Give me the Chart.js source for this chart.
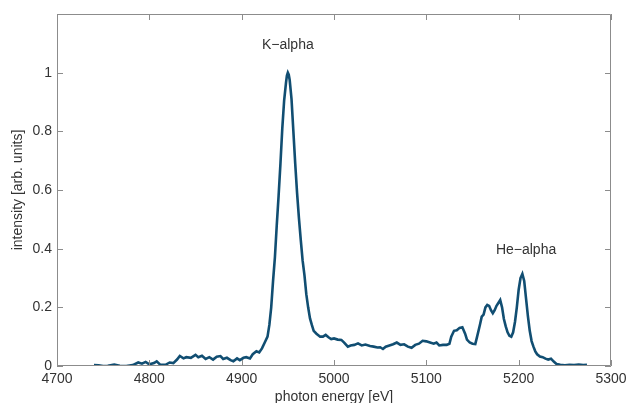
<!DOCTYPE html>
<html>
<head>
<meta charset="utf-8">
<script src="https://cdn.jsdelivr.net/npm/chart.js@4/dist/chart.umd.min.js"></script>
<style>
  html, body { margin: 0; padding: 0; background: #fff; }
  #wrap { width: 626px; height: 403px; }
</style>
</head>
<body>
<div id="wrap"><canvas id="spectrum"></canvas></div>
<script>
// photon energy [eV] and normalised intensity
const energy = [
  4740, 4745, 4750, 4755, 4762, 4768, 4775, 4782, 4788, 4792, 4796, 4800, 4805, 4808, 4812, 4818,
  4822, 4826, 4830, 4833, 4837, 4840, 4845, 4850, 4853, 4857, 4861, 4865, 4869, 4873, 4877, 4880,
  4884, 4888, 4891, 4895, 4898, 4902, 4905, 4909, 4912, 4916, 4919, 4922, 4925, 4928, 4930, 4932,
  4934, 4936, 4938, 4940, 4942, 4944, 4946, 4948, 4949, 4950, 4951, 4952, 4954, 4956, 4958, 4960,
  4962, 4964, 4966, 4968, 4970, 4972, 4974, 4976, 4978, 4981, 4985, 4988, 4991, 4994, 4997, 5000,
  5004, 5008, 5011, 5015, 5018, 5022, 5026, 5030, 5034, 5039, 5043, 5047, 5050, 5053, 5056, 5060,
  5064, 5068, 5072, 5076, 5080, 5084, 5088, 5092, 5096, 5100, 5104, 5108, 5111, 5114, 5118, 5122,
  5125, 5127, 5130, 5133, 5136, 5139, 5142, 5144, 5147, 5150, 5153, 5155, 5158, 5160, 5162, 5164,
  5166, 5168, 5170, 5172, 5174, 5176, 5178, 5180, 5182, 5184, 5186, 5188, 5190, 5192, 5194, 5196,
  5198, 5200, 5202, 5204, 5206, 5208, 5210, 5212, 5214, 5216, 5218, 5220, 5223, 5226, 5229, 5232,
  5235, 5238, 5241, 5245, 5250, 5255, 5260, 5265, 5270, 5274
];
const intensity = [
  0.003, 0.002, 0.000, 0.001, 0.005, 0.001, 0.000, 0.003, 0.012, 0.008, 0.014, 0.006, 0.010, 0.016, 0.004, 0.005,
  0.012, 0.010, 0.022, 0.034, 0.026, 0.030, 0.028, 0.038, 0.030, 0.035, 0.024, 0.030, 0.022, 0.032, 0.034, 0.024,
  0.028, 0.020, 0.016, 0.026, 0.020, 0.028, 0.030, 0.026, 0.040, 0.050, 0.046, 0.060, 0.080, 0.100, 0.140, 0.200,
  0.290, 0.370, 0.480, 0.580, 0.690, 0.810, 0.905, 0.965, 0.990, 1.000, 0.993, 0.975, 0.910, 0.800, 0.690, 0.590,
  0.505, 0.430, 0.360, 0.310, 0.245, 0.200, 0.162, 0.140, 0.120, 0.110, 0.100, 0.100, 0.106, 0.098, 0.092, 0.094,
  0.090, 0.089, 0.080, 0.066, 0.070, 0.072, 0.077, 0.070, 0.073, 0.068, 0.066, 0.063, 0.064, 0.058, 0.066, 0.070,
  0.074, 0.080, 0.072, 0.074, 0.066, 0.062, 0.072, 0.076, 0.086, 0.084, 0.080, 0.076, 0.080, 0.070, 0.072, 0.072,
  0.076, 0.100, 0.120, 0.122, 0.130, 0.132, 0.110, 0.090, 0.080, 0.076, 0.075, 0.100, 0.140, 0.168, 0.175, 0.200,
  0.208, 0.205, 0.190, 0.180, 0.190, 0.205, 0.215, 0.225, 0.200, 0.160, 0.135, 0.115, 0.103, 0.100, 0.115, 0.150,
  0.200, 0.260, 0.300, 0.314, 0.290, 0.230, 0.170, 0.120, 0.085, 0.066, 0.050, 0.040, 0.032, 0.030, 0.025, 0.022,
  0.025, 0.015, 0.007, 0.004, 0.002, 0.004, 0.003, 0.005, 0.003, 0.004
];
const xTicks = [4700, 4800, 4900, 5000, 5100, 5200, 5300];
const yTicks = [0, 0.2, 0.4, 0.6, 0.8, 1];
const peakLabels = ['K\u2212alpha', 'He\u2212alpha'];
const peakLabelPos = [[4950, 1.094], [5208, 0.395]];

const FONT = '"Liberation Sans", Arial, sans-serif';
const AXIS_GREY = '#8c8c8c';
const TEXT = '#333333';

// box around the plot with inward ticks on all four sides, plus the peak labels
const boxPlugin = {
  id: 'box',
  afterDraw(chart) {
    const { ctx, chartArea: a, scales: { x, y } } = chart;
    const len = 6;
    ctx.save();
    ctx.strokeStyle = AXIS_GREY;
    ctx.lineWidth = 1;
    ctx.beginPath();
    ctx.rect(a.left + 0.5, a.top + 0.5, a.right - a.left - 1, a.bottom - a.top - 1);
    xTicks.forEach(v => {
      const px = Math.round(x.getPixelForValue(v)) + 0.5;
      ctx.moveTo(px, a.bottom); ctx.lineTo(px, a.bottom - len);
      ctx.moveTo(px, a.top); ctx.lineTo(px, a.top + len);
    });
    yTicks.forEach(v => {
      const py = Math.round(y.getPixelForValue(v)) + 0.5;
      ctx.moveTo(a.left, py); ctx.lineTo(a.left + len, py);
      ctx.moveTo(a.right, py); ctx.lineTo(a.right - len, py);
    });
    ctx.stroke();

    ctx.fillStyle = TEXT;
    ctx.font = '14px ' + FONT;
    ctx.textAlign = 'center';
    ctx.textBaseline = 'middle';
    peakLabels.forEach((t, i) => {
      const [ev, val] = peakLabelPos[i];
      ctx.fillText(t, x.getPixelForValue(ev), y.getPixelForValue(val));
    });
    ctx.restore();
  }
};

new Chart(document.getElementById('spectrum'), {
  type: 'line',
  data: {
    datasets: [{
      data: energy.map((e, i) => ({ x: e, y: intensity[i] })),
      borderColor: '#114e72',
      borderWidth: 2.6,
      pointRadius: 0,
      tension: 0,
      fill: false
    }]
  },
  options: {
    responsive: true,
    maintainAspectRatio: false,
    devicePixelRatio: 1,
    animation: false,
    layout: { padding: { top: 14, right: 15, left: 0, bottom: 0 } },
    plugins: { legend: { display: false }, tooltip: { enabled: false } },
    scales: {
      x: {
        type: 'linear',
        min: 4700,
        max: 5300,
        afterFit(s) { s.height = 37; s.paddingRight = 0; s.paddingLeft = 0; },
        afterBuildTicks(s) { s.ticks = xTicks.map(v => ({ value: v })); },
        grid: { display: false, drawTicks: false },
        border: { display: false },
        ticks: {
          color: TEXT,
          font: { size: 14, family: FONT },
          padding: 5,
          maxRotation: 0,
          callback: v => String(v)
        },
        title: {
          display: true,
          text: 'photon energy [eV]',
          color: TEXT,
          font: { size: 14, family: FONT },
          padding: { top: 0, bottom: -3 }
        }
      },
      y: {
        min: 0,
        max: 1.2,
        afterFit(s) { s.width = 57; s.paddingTop = 0; s.paddingBottom = 0; },
        afterBuildTicks(s) { s.ticks = yTicks.map(v => ({ value: v })); },
        grid: { display: false, drawTicks: false },
        border: { display: false },
        ticks: {
          color: TEXT,
          font: { size: 14, family: FONT },
          padding: 5,
          callback: v => String(Math.round(v * 10) / 10)
        },
        title: {
          display: true,
          text: 'intensity [arb. units]',
          color: TEXT,
          font: { size: 14, family: FONT },
          padding: { top: 10, bottom: 0 }
        }
      }
    }
  },
  plugins: [boxPlugin]
});
</script>
</body>
</html>
